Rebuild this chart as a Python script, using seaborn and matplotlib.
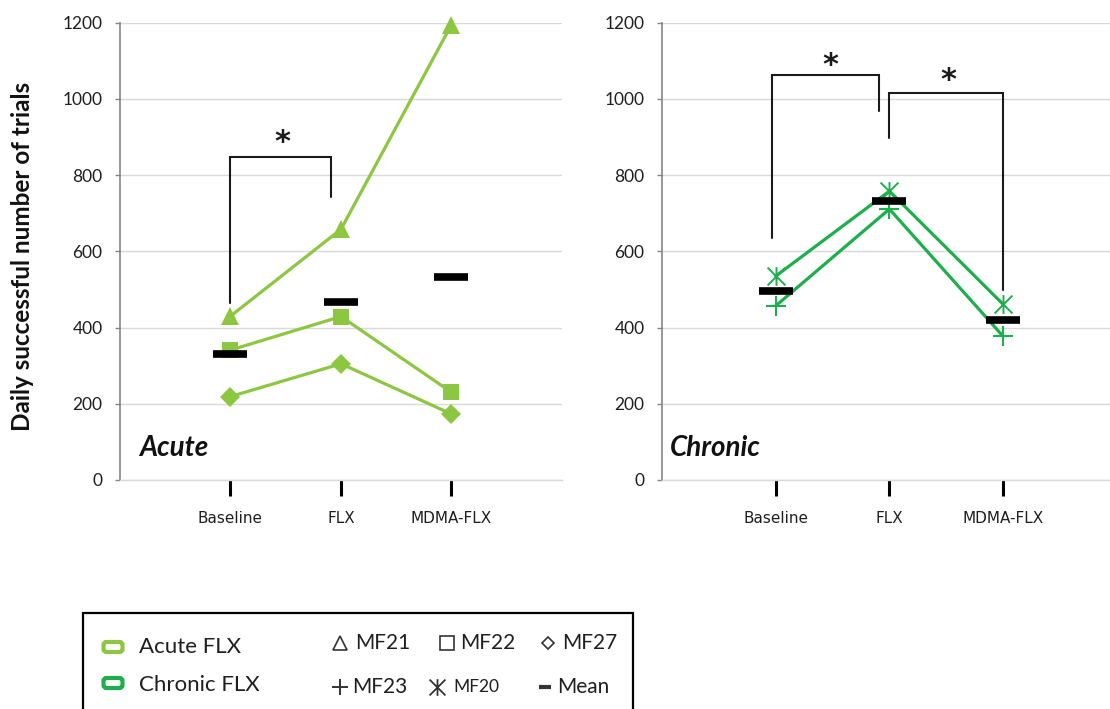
import numpy as np
import pandas as pd
import matplotlib
matplotlib.use("Agg")
import matplotlib.pyplot as plt
import seaborn as sns
from matplotlib.lines import Line2D
from matplotlib.patches import Rectangle, FancyBboxPatch
from matplotlib.path import Path
from matplotlib.transforms import IdentityTransform

# ---------------- data ----------------
categories = ["Baseline", "FLX", "MDMA-FLX"]
acute_mf21 = [430, 658, 1195]
acute_mf22 = [341, 429, 230]
acute_mf27 = [219, 305, 173]
acute_mean = [330, 467, 534]
chronic_mf23 = [457, 711, 377]
chronic_mf20 = [535, 758, 461]
chronic_mean = [496, 733, 419]
yticks = [0, 200, 400, 600, 800, 1000, 1200]

# ---------------- style ----------------
ACUTE = "#8DC641"
CHRONIC = "#1DAF4C"
sns.set_theme(style="white")
plt.rcParams["font.family"] = ["Lato", "DejaVu Sans"]

W, H = 1110, 709
fig = plt.figure(figsize=(W / 100, H / 100), dpi=100)
fig.patch.set_facecolor("white")

def ax_rect(left, right, top=22.7, bottom=480):
    return [left / W, 1 - bottom / H, (right - left) / W, (bottom - top) / H]

ax1 = fig.add_axes(ax_rect(120, 562))
ax2 = fig.add_axes(ax_rect(662, 1110))

xpos = np.arange(len(categories))

asterisk_marker = Path(
    [(-1, -1), (1, 1), (-1, 1), (1, -1), (0, -1.05), (0, 1.05)],
    [Path.MOVETO, Path.LINETO, Path.MOVETO, Path.LINETO, Path.MOVETO, Path.LINETO],
)

def style_axis(ax, xmax):
    ax.set_xlim(-1, xmax)
    ax.set_ylim(0, 1200)
    ax.set_yticks(yticks)
    ax.set_yticklabels([str(v) for v in yticks], fontsize=12.5, color="#1F1F1F")
    ax.set_xticks(xpos)
    ax.set_xticklabels(categories, fontsize=11, color="#1F1F1F", family="DejaVu Sans")
    ax.yaxis.grid(True, color="#D9D9D9", lw=1)
    ax.xaxis.grid(False)
    ax.set_axisbelow(True)
    for s in ["top", "right"]:
        ax.spines[s].set_visible(False)
    ax.spines["left"].set_color("#858585")
    ax.spines["left"].set_linewidth(1.2)
    ax.spines["bottom"].set_color("#D9D9D9")
    ax.spines["bottom"].set_linewidth(1)
    ax.tick_params(axis="y", left=True, length=3.6, width=1, color="#858585", pad=9)
    ax.tick_params(axis="x", bottom=True, length=11.5, width=2.2, color="black",
                   direction="out", pad=11)
    ax.set_facecolor("white")

style_axis(ax1, 3.0)
style_axis(ax2, 2.94)

# ---------------- acute panel ----------------
for vals, mk, ms in [(acute_mf21, "^", 12.5), (acute_mf22, "s", 12), (acute_mf27, "D", 10)]:
    sns.lineplot(x=xpos, y=vals, ax=ax1, color=ACUTE, lw=2.3, marker=mk, markersize=ms,
                 markeredgewidth=0, markerfacecolor=ACUTE, clip_on=False, zorder=3)
sns.scatterplot(x=xpos, y=acute_mean, ax=ax1, marker="_", s=25 ** 2, linewidth=5.5,
                color="black", zorder=5, clip_on=False)

# ---------------- chronic panel ----------------
sns.lineplot(x=xpos, y=chronic_mf20, ax=ax2, color=CHRONIC, lw=2.3, marker=asterisk_marker,
             markersize=13.5, markeredgewidth=1.4, markeredgecolor=CHRONIC,
             markerfacecolor="none", zorder=3)
sns.lineplot(x=xpos, y=chronic_mf23, ax=ax2, color=CHRONIC, lw=2.3, marker="+",
             markersize=14, markeredgewidth=1.5, markeredgecolor=CHRONIC, zorder=3)
sns.scatterplot(x=xpos, y=chronic_mean, ax=ax2, marker="_", s=25 ** 2, linewidth=5.5,
                color="black", zorder=5)

for ax in (ax1, ax2):
    if ax.get_legend() is not None:
        ax.get_legend().remove()

# ---------------- significance brackets ----------------
def bracket(ax, x0, x1, y0, y1, top, star_x, star_y):
    ax.plot([x0, x0, x1, x1], [y0, top, top, y1], color="#1A1A1A", lw=1.5,
            solid_joinstyle="miter", zorder=4)
    ax.annotate("*", xy=(star_x, star_y), xytext=(0, -13), textcoords="offset points",
                ha="center", va="baseline", fontsize=22, fontweight="bold",
                family="DejaVu Sans", color="#1A1A1A")

bracket(ax1, 0.0, 0.91, 465, 742, 848, 0.47, 912)
bracket(ax2, -0.03, 0.905, 635, 969, 1063, 0.48, 1113)
bracket(ax2, 1.0, 2.0, 898, 499, 1015, 1.52, 1074)

# ---------------- panel labels ----------------
ax1.text(0.043, 0.0525, "Acute", transform=ax1.transAxes, fontsize=20,
         fontweight="bold", fontstyle="italic", color="#111111", va="baseline")
ax2.text(0.018, 0.0525, "Chronic", transform=ax2.transAxes, fontsize=20,
         fontweight="bold", fontstyle="italic", color="#111111", va="baseline")

ax1.set_ylabel("Daily successful number of trials", fontsize=17.5, fontweight="bold",
               color="#111111")
ax1.yaxis.set_label_coords((34 - 120) / 442, (480 - 256) / 457.3)
ax2.set_ylabel("")
ax1.set_xlabel("")
ax2.set_xlabel("")

# ---------------- legend (drawn as a boxed key) ----------------
T = IdentityTransform()
def py(y):
    return H - y

fig.add_artist(Rectangle((83, py(740)), 550, 127, transform=T, fill=False,
                         edgecolor="black", lw=1.6))

for yc, col in [(647, ACUTE), (683, CHRONIC)]:
    fig.add_artist(FancyBboxPatch((113 - 9.5, py(yc) - 5), 19, 10,
                                  boxstyle="round,pad=0,rounding_size=3",
                                  transform=T, fill=False, edgecolor=col, lw=3))

def ftext(x, y, s, size=15, **kw):
    fig.text(x / W, 1 - y / H, s, fontsize=size, va="center", ha="left",
             color="#1F1F1F", **kw)

ftext(139, 647, "Acute FLX", size=16)
ftext(139, 685, "Chronic FLX", size=16)

symbols = [
    (340, 643, "^", 9.5, 1.2, "MF21", 355, 15),
    (447, 643, "s", 9.5, 1.2, "MF22", 460, 15),
    (548, 643, "D", 6.5, 1.2, "MF27", 562, 15),
    (340, 687, "+", 11, 1.4, "MF23", 352, 15),
    (437, 687, asterisk_marker, 12, 1.3, "MF20", 453, 12.5),
    (545, 687, "_", 9, 3.0, "Mean", 557, 15),
]
for sx, sy, mk, ms, mew, lab, tx, fs in symbols:
    fig.add_artist(Line2D([sx], [py(sy)], marker=mk, markersize=ms, markeredgewidth=mew,
                          markerfacecolor="none", markeredgecolor="#333333",
                          linestyle="none", transform=T))
    ftext(tx, sy, lab, size=fs)

fig.savefig("out.png", dpi=100, facecolor="white")
